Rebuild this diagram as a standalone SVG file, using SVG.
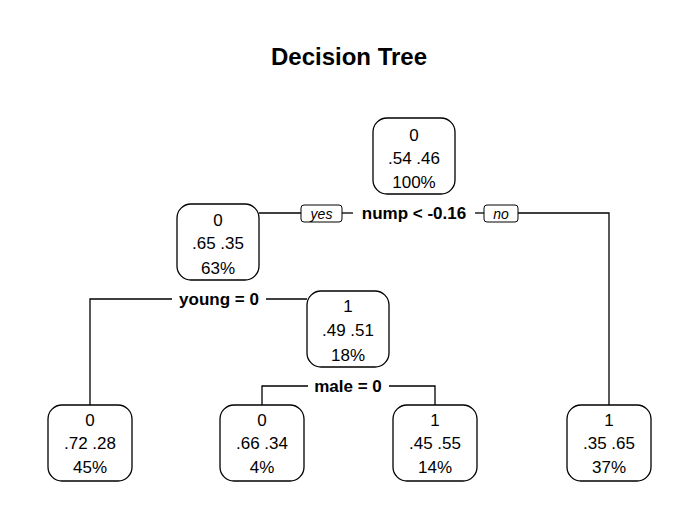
<svg xmlns="http://www.w3.org/2000/svg" width="698" height="516" viewBox="0 0 698 516">
<style>
text{font-family:"Liberation Sans",Arial,sans-serif;font-size:17px;fill:#000;text-anchor:middle}
.t{font-size:24px;font-weight:bold}
.s{font-weight:bold}
.yn{font-style:italic;font-size:14px}
.box{fill:#fff;stroke:#000;stroke-width:1.3}
.yb{fill:#fff;stroke:#000;stroke-width:1}
line,polyline{stroke:#000;stroke-width:1.3;fill:none}
</style>
<rect width="698" height="516" fill="#fff"/>
<text class="t" x="349" y="65">Decision Tree</text>
<g id="connectors">
<line x1="259" y1="213" x2="301" y2="213"/>
<line x1="342" y1="213" x2="353" y2="213"/>
<line x1="475" y1="213" x2="484" y2="213"/>
<polyline points="518,213 609,213 609,405"/>
<polyline points="172,299 90,299 90,405"/>
<line x1="266" y1="299" x2="307" y2="299"/>
<polyline points="308,386 262,386 262,405"/>
<polyline points="389,386 435,386 435,405"/>
<rect class="yb" x="301" y="205" width="41" height="17" rx="3"/>
<text class="yn" x="321.5" y="218.5">yes</text>
<rect class="yb" x="484" y="205" width="34" height="17" rx="3"/>
<text class="yn" x="501" y="218.5">no</text>
<text class="s" x="414" y="219">nump &lt; -0.16</text>
<text class="s" x="219" y="305">young = 0</text>
<text class="s" x="348" y="392">male = 0</text>
</g>
<g id="n1"><rect class="box" x="373" y="118" width="82" height="76" rx="14"/><text x="414" y="141">0</text><text x="414" y="164">.54  .46</text><text x="414" y="188">100%</text></g>
<g id="n2"><rect class="box" x="177" y="204" width="82" height="76" rx="14"/><text x="218" y="226">0</text><text x="218" y="249">.65  .35</text><text x="218" y="274">63%</text></g>
<g id="n3"><rect class="box" x="307" y="291" width="82" height="76" rx="14"/><text x="348" y="312">1</text><text x="348" y="336">.49  .51</text><text x="348" y="361">18%</text></g>
<g id="n4"><rect class="box" x="48" y="405" width="84" height="76" rx="14"/><text x="90" y="426">0</text><text x="90" y="449">.72  .28</text><text x="90" y="473">45%</text></g>
<g id="n5"><rect class="box" x="220" y="405" width="84" height="76" rx="14"/><text x="262" y="426">0</text><text x="262" y="449">.66  .34</text><text x="262" y="473">4%</text></g>
<g id="n6"><rect class="box" x="393" y="405" width="84" height="76" rx="14"/><text x="435" y="426">1</text><text x="435" y="449">.45  .55</text><text x="435" y="473">14%</text></g>
<g id="n7"><rect class="box" x="567" y="405" width="84" height="76" rx="14"/><text x="609" y="426">1</text><text x="609" y="449">.35  .65</text><text x="609" y="473">37%</text></g>
</svg>
